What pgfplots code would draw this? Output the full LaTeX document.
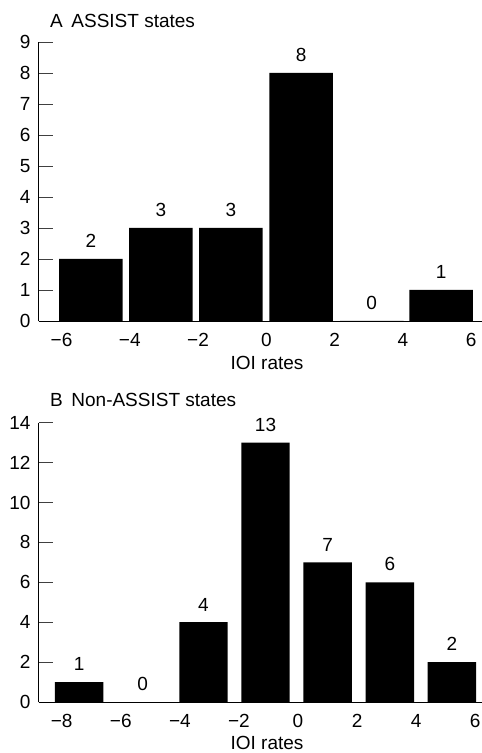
\documentclass[border=0pt]{standalone}
\usepackage{fontspec}
\setmainfont{Liberation Sans}
\usepackage{pgfplots}
\pgfplotsset{compat=1.18}
\newcommand{\ff}{\fontsize{19}{23}\selectfont}
\pgfplotsset{
  hist/.style={
    scale only axis,
    width=443.3pt,
    axis lines*=left,
    axis line style={line width=0.9pt, black},
    ymin=0,
    tick align=inside,
    major tick length=14pt,
    ytick style={line width=0.7pt, black!75},
    xtick style={draw=none},
    tick label style={font=\ff},
    yticklabel style={anchor=east, inner sep=0pt, xshift=-8pt},
    xticklabel style={anchor=north, inner sep=0pt, yshift=2pt},
    xlabel style={font=\ff, at={(axis description cs:0.515,0)}, anchor=base, inner sep=0pt, yshift=-48.5pt},
    ybar,
    nodes near coords,
    nodes near coords style={font=\ff, anchor=south, inner sep=0pt, yshift=11pt},
    /pgf/number format/assume math mode=true,
  }
}
\begin{document}
\ff
\begin{tikzpicture}
\path[use as bounding box] (0,0) rectangle (482pt,753pt);
% Panel A
\begin{axis}[hist,
  at={(38.7pt,432pt)}, anchor=south west,
  height=279pt,
  xmin=-6.67, xmax=6.32, ymax=9,
  ytick={0,1,2,3,4,5,6,7,8,9},
  yticklabels={0,1,2,3,4,5,6,7,8,9},
  xtick={-6,-4,-2,0,2,4,6},
  xticklabels={−6,−4,−2,0,2,4,6},
  xlabel={IOI rates},
  bar width=1.86,
]
\addplot[fill=black, draw=none] coordinates {
  (-5.14,2) (-3.09,3) (-1.04,3) (1.02,8) (3.09,0) (5.12,1)
};
\end{axis}
\node[anchor=base west, inner sep=0pt, font=\ff] at (50pt,725.7pt) {A\hspace{0.45em}ASSIST states};
% Panel B
\begin{axis}[hist,
  at={(38.7pt,51pt)}, anchor=south west,
  height=279.3pt,
  xmin=-8.78, xmax=6.23, ymax=14,
  ytick={0,2,4,6,8,10,12,14},
  yticklabels={0,2,4,6,8,10,12,14},
  xtick={-8,-6,-4,-2,0,2,4,6},
  xticklabels={−8,−6,−4,−2,0,2,4,6},
  xlabel={IOI rates},
  xlabel style={yshift=1.5pt},
  bar width=1.64,
]
\addplot[fill=black, draw=none] coordinates {
  (-7.41,1) (-5.26,0) (-3.20,4) (-1.10,13) (1.00,7) (3.11,6) (5.21,2)
};
\end{axis}
\node[anchor=base west, inner sep=0pt, font=\ff] at (50pt,346pt) {B\hspace{0.45em}Non-ASSIST states};
\end{tikzpicture}
\end{document}
